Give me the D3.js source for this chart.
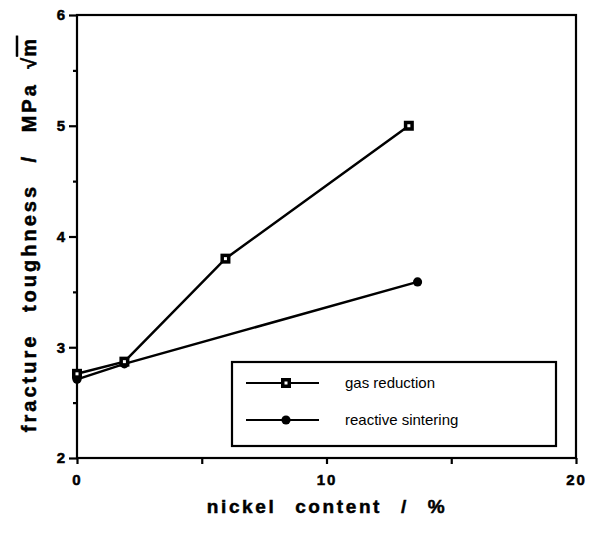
<!DOCTYPE html>
<html>
<head>
<meta charset="utf-8">
<script src="https://cdn.jsdelivr.net/npm/d3@7"></script>
<style>
  body { margin: 0; background: #fff; }
  text { font-family: "Liberation Sans", Arial, Helvetica, sans-serif; fill: #000; }
  .tick text { font-weight: bold !important; font-size: 15px !important; stroke: #000; stroke-width: 0.5px; }
  .heavy { stroke: #000; stroke-width: 0.5px; }
</style>
</head>
<body>
<div id="chart-area"></div>
<script>
/* data */
var gasX = [0, 1.9, 5.95, 13.3];
var gasY = [2.76, 2.87, 3.8, 5.0];
var sinterX = [0, 1.9, 13.65];
var sinterY = [2.71, 2.85, 3.59];
var xTicks = [0, 10, 20];
var yTicks = [2, 3, 4, 5, 6];
var legendNames = ["gas reduction", "reactive sintering"];

var margin = {top: 15, right: 14, bottom: 75, left: 77};
var W = 590, H = 533;
var width = W - margin.left - margin.right;
var height = H - margin.top - margin.bottom;

var svg = d3.select("#chart-area").append("svg")
  .attr("width", W)
  .attr("height", H);
var g = svg.append("g")
  .attr("transform", "translate(" + margin.left + "," + margin.top + ")");

var x = d3.scaleLinear().domain([0, 20]).range([0, width]);
var y = d3.scaleLinear().domain([2, 6]).range([height, 0]);

// frame
g.append("rect")
  .attr("width", width)
  .attr("height", height)
  .attr("fill", "none")
  .attr("stroke", "#000")
  .attr("stroke-width", 2.2);

// x axis
var xAxis = g.append("g")
  .attr("transform", "translate(0," + height + ")")
  .call(d3.axisBottom(x).tickValues([0, 5, 10, 15, 20]).tickSize(6)
    .tickFormat(d => xTicks.indexOf(d) >= 0 ? d : ""));
xAxis.select(".domain").remove();
xAxis.selectAll("line").attr("stroke-width", 2.2);
xAxis.selectAll("text")
  .attr("font-family", "Liberation Sans, Arial, sans-serif")
  .attr("dy", "1.2em").attr("letter-spacing", 2);

// y axis
var yAxis = g.append("g")
  .call(d3.axisLeft(y).tickValues([2, 2.5, 3, 3.5, 4, 4.5, 5, 5.5, 6])
    .tickSize(6).tickFormat(d => yTicks.indexOf(d) >= 0 ? d : ""));
yAxis.select(".domain").remove();
yAxis.selectAll("line").attr("stroke-width", 2.2)
  .attr("x2", d => yTicks.indexOf(d) >= 0 ? -8 : -4);
yAxis.selectAll("text")
  .attr("font-family", "Liberation Sans, Arial, sans-serif")
  .attr("x", -12);

// lines
var line = d3.line().x(d => x(d[0])).y(d => y(d[1]));
var gas = gasX.map((v, i) => [v, gasY[i]]);
var sinter = sinterX.map((v, i) => [v, sinterY[i]]);

[sinter, gas].forEach(s => {
  g.append("path").datum(s)
    .attr("d", line)
    .attr("fill", "none")
    .attr("stroke", "#000")
    .attr("stroke-width", 2.5);
});

function squareMark(sel, cx, cy) {
  sel.append("rect").attr("x", cx - 5).attr("y", cy - 5)
    .attr("width", 10).attr("height", 10).attr("fill", "#000");
  sel.append("rect").attr("x", cx - 1.5).attr("y", cy - 1.5)
    .attr("width", 3).attr("height", 3).attr("fill", "#fff");
}
function dotMark(sel, cx, cy) {
  sel.append("path")
    .attr("transform", "translate(" + cx + "," + cy + ")")
    .attr("d", d3.symbol().type(d3.symbolCircle).size(66)())
    .attr("fill", "#000");
}

sinter.forEach(d => dotMark(g, x(d[0]), y(d[1])));
gas.forEach(d => squareMark(g, x(d[0]), y(d[1])));

// legend
var legend = svg.append("g").attr("transform", "translate(232,362)");
legend.append("rect")
  .attr("width", 324).attr("height", 84)
  .attr("fill", "#fff").attr("stroke", "#000").attr("stroke-width", 2.2);

legendNames.forEach((name, i) => {
  var row = legend.append("g").attr("transform", "translate(0," + (21 + i * 37) + ")");
  row.append("line").attr("x1", 14).attr("x2", 87)
    .attr("stroke", "#000").attr("stroke-width", 2.2);
  if (i === 0) squareMark(row, 54, 0); else dotMark(row, 54, 0);
  row.append("text")
    .attr("x", 113).attr("y", 5)
    .style("font-size", "15px")
    .text(name);
});

// axis labels
svg.append("text")
  .attr("class", "heavy")
  .attr("x", 327).attr("y", 513)
  .attr("text-anchor", "middle")
  .style("font-size", "19px").style("font-weight", "bold")
  .attr("letter-spacing", 2.6).attr("word-spacing", 11)
  .text("nickel content / %");

var yl = svg.append("text")
  .attr("class", "heavy")
  .attr("transform", "translate(36,234) rotate(-90)")
  .attr("text-anchor", "middle")
  .style("font-size", "20px").style("font-weight", "bold")
  .attr("letter-spacing", 3).attr("word-spacing", 13);
yl.append("tspan").text("fracture toughness / MPa ");
yl.append("tspan").attr("dx", -8).text("\u221A");
yl.append("tspan").attr("dx", -2).style("text-decoration", "overline").text("m");
</script>
</body>
</html>
